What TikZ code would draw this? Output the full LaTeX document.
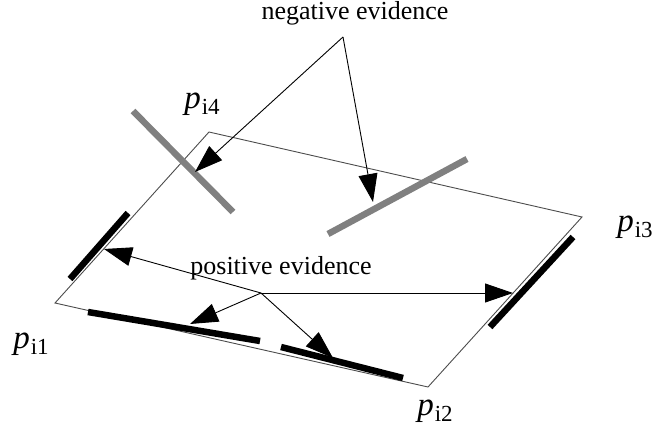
\documentclass[tikz,border=0pt]{standalone}
\usepackage{fontspec}
\setmainfont{Liberation Serif}
\usetikzlibrary{arrows.meta}
\newcommand{\plab}[1]{{\fontsize{33}{33}\selectfont\itshape p}\kern1pt{\fontsize{23}{23}\selectfont\raisebox{-6pt}{#1}}}
\begin{document}
\begin{tikzpicture}[x=1pt,y=-1pt,
  quad/.style={draw=black!70,line width=0.9pt},
  negbar/.style={draw=black!50,line width=6.5pt},
  posbar/.style={draw=black,line width=6.5pt},
  pointer/.style={draw=black,line width=0.9pt,-{Triangle[length=28pt,width=19pt]}},
  lbl/.style={inner sep=0pt,font=\fontsize{26}{28}\selectfont},
  corner/.style={inner sep=0pt}]
\useasboundingbox (0,0) rectangle (657,433);
% quadrilateral corners
\coordinate (c1) at (55,303);
\coordinate (c2) at (428,387);
\coordinate (c3) at (582,217);
\coordinate (c4) at (209,132);
\draw[quad] (c1) -- (c2) -- (c3) -- (c4) -- cycle;
% corner labels
\node[corner] (l1) at (31,344) {\plab{i1}};
\node[corner] (l2) at (435,411) {\plab{i2}};
\node[corner] (l3) at (635,227) {\plab{i3}};
\node[corner] (l4) at (202,104) {\plab{i4}};
% negative evidence bars
\coordinate (n1a) at (133,111); \coordinate (n1b) at (233,212);
\coordinate (n2a) at (328,234); \coordinate (n2b) at (467,159);
\draw[negbar] (n1a) -- (n1b);
\draw[negbar] (n2a) -- (n2b);
% positive evidence bars
\coordinate (b1a) at (70,279); \coordinate (b1b) at (128,213);
\coordinate (b2a) at (88,312); \coordinate (b2b) at (260,341);
\coordinate (b3a) at (281,347); \coordinate (b3b) at (403,378);
\coordinate (b4a) at (490,327); \coordinate (b4b) at (573,237);
\draw[posbar] (b1a) -- (b1b);
\draw[posbar] (b2a) -- (b2b);
\draw[posbar] (b3a) -- (b3b);
\draw[posbar] (b4a) -- (b4b);
% negative evidence label and pointers
\node[lbl] (neg) at (355,13) {negative evidence};
\coordinate (nap) at (343,37);
\coordinate (nt1) at (195,172);
\coordinate (nt2) at (373,202);
\draw[pointer] (nap) -- (nt1);
\draw[pointer] (nap) -- (nt2);
% positive evidence label and pointers
\node[lbl] (pos) at (281,268) {positive evidence};
\coordinate (pap) at (261,293);
\coordinate (pt1) at (104,249);
\coordinate (pt2) at (190,324);
\coordinate (pt3) at (333,358);
\coordinate (pt4) at (513,293);
\draw[pointer] (pap) -- (pt1);
\draw[pointer] (pap) -- (pt2);
\draw[pointer] (pap) -- (pt3);
\draw[pointer] (pap) -- (pt4);
\end{tikzpicture}
\end{document}
